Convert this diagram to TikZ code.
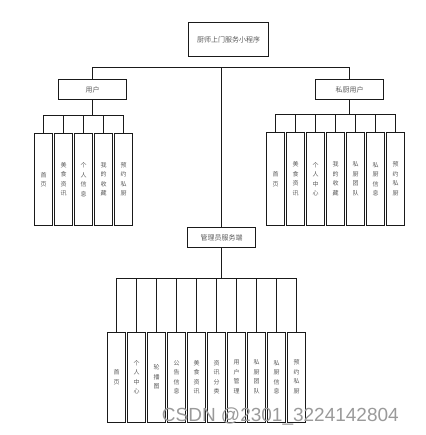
\documentclass[tikz,border=0pt]{standalone}
\usepackage{fontspec}
\usepackage{tikz}
\usetikzlibrary{positioning}
\newfontfamily\cjk{Noto Sans CJK SC}
\newfontfamily\wmfont{Liberation Sans}
\definecolor{ink}{HTML}{1A1A1A}
\definecolor{lbl}{HTML}{5A5A5A}
\definecolor{mark}{HTML}{9A9A9A}

\begin{document}
\begin{tikzpicture}[x=1pt,y=-1pt,
  font=\cjk\fontsize{7}{8}\selectfont,
  head/.style={draw=ink,line width=1pt,minimum width=68pt,minimum height=20pt,
               inner sep=0pt,text=lbl},
  leaf/.style={draw=ink,line width=1pt,anchor=north,minimum width=18pt,
               minimum height=91pt,inner sep=0pt,text width=8pt,align=center,
               text=lbl,font=\cjk\fontsize{6}{9.5}\selectfont},
  wire/.style={draw=ink,line width=1pt}]

\useasboundingbox (0,0) rectangle (425,435);

% main boxes
\node[head,minimum width=80pt,minimum height=34pt] (app) at (228.5,39.5) {厨师上门服务小程序};
\node[head] (usr)   at (92.5,89.5)  {用户};
\node[head] (chef)  at (349.5,89.5) {私厨用户};
\node[head] (admin) at (221.5,237.5) {管理员服务端};

\coordinate (trunk) at (admin.north |- 0,67.5);
\draw[wire] (usr.north) |- (trunk) -| (chef.north);
\draw[wire] (trunk) -- (admin.north);

% user side
\coordinate (ubar) at (usr.south |- 0,115.5);
\draw[wire] (usr.south) -- (ubar);
\foreach \t [count=\i from 0] in {{首\\页},{美\\食\\资\\讯},{个\\人\\信\\息},
    {我\\的\\收\\藏},{预\\约\\私\\厨}}{
  \node[leaf] (u\i) at (43.5+20*\i,133.5) {\t};
  \draw[wire] (u\i.north) |- (ubar);
}

% chef side
\coordinate (cbar) at (chef.south |- 0,114.5);
\draw[wire] (chef.south) -- (cbar);
\foreach \t [count=\i from 0] in {{首\\页},{美\\食\\资\\讯},{个\\人\\中\\心},
    {我\\的\\收\\藏},{私\\厨\\团\\队},{私\\厨\\信\\息},{预\\约\\私\\厨}}{
  \node[leaf,minimum height=92pt] (c\i) at (275.5+20*\i,132.5) {\t};
  \draw[wire] (c\i.north) |- (cbar);
}

% admin side
\coordinate (abar) at (admin.south |- 0,278.5);
\draw[wire] (admin.south) -- (abar);
\foreach \t [count=\i from 0] in {{首\\页},{个\\人\\中\\心},{轮\\播\\图},
    {公\\告\\信\\息},{美\\食\\资\\讯},{资\\讯\\分\\类},{用\\户\\管\\理},
    {私\\厨\\团\\队},{私\\厨\\信\\息},{预\\约\\私\\厨}}{
  \node[leaf,minimum height=90pt] (a\i) at (116.5+20*\i,331.5) {\t};
  \draw[wire] (a\i.north) |- (abar);
}

\node[anchor=base west,inner sep=0pt,text=mark,font=\wmfont\fontsize{19}{20}\selectfont]
  (wm) at (161.7,421.7) {CSDN @2301\_3224142804};
\end{tikzpicture}
\end{document}
